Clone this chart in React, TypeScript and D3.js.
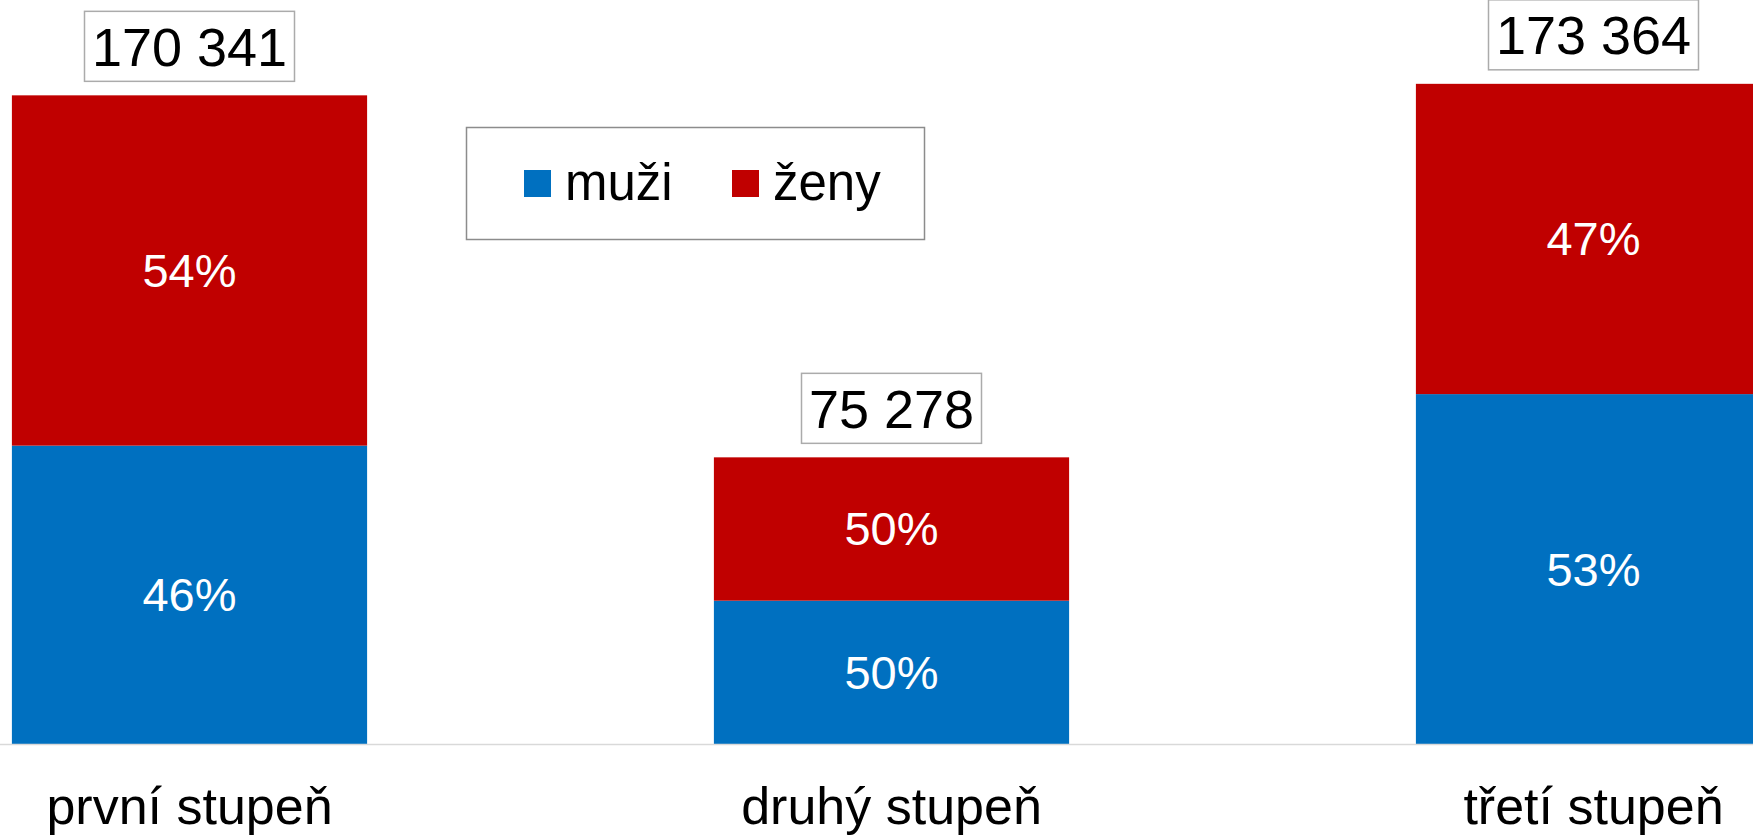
// Stacked bars: share of men / women by study level, with totals in boxes on top

import React from "react"
import * as d3 from "d3"

const categories = ["první stupeň", "druhý stupeň", "třetí stupeň"]
const totals = [170341, 75278, 173364]
const muziPct = [46, 50, 53]
const zenyPct = [54, 50, 47]
const totalLabels = ["170 341", "75 278", "173 364"]

const seriesNames = ["muži", "ženy"]
const colors = ["#0070C0", "#C00000"]

const W = 1753
const H = 836
const FONT = "'Liberation Sans', Arial, sans-serif"

export default function App() {
  const baseline = 744

  // band scale set so each bar is 355px wide with 702px step
  const x = d3.scaleBand<string>()
    .domain(categories)
    .range([-161.5, 1944.5])
    .paddingInner(0.494)
    .paddingOuter(0.247)

  const y = d3.scaleLinear()
    .domain([0, 200000])
    .range([baseline, -17.6])

  const rows = categories.map((c, i) => {
    const m = totals[i] * muziPct[i] / 100
    const z = totals[i] * zenyPct[i] / 100
    return { c, i, m, z, total: totals[i] }
  })

  const bw = x.bandwidth()

  return (
    <div style={{ position: "fixed", left: 0, top: 0 }}>
      <svg width={W} height={H} style={{ display: "block", fontFamily: FONT }}>
        <rect width={W} height={H} fill="#fff" />

        {rows.map(d => {
          const x0 = x(d.c) as number
          const cx = x0 + bw / 2
          const yM = y(d.m)
          const yT = y(d.m + d.z)
          const boxTop = yT - 84
          const boxW = totalLabels[d.i].length * 30
          return (
            <g key={d.c}>
              <rect x={x0} y={yM} width={bw} height={baseline - yM} fill={colors[0]} />
              <rect x={x0} y={yT} width={bw} height={yM - yT} fill={colors[1]} />
              <text x={cx} y={(yM + baseline) / 2} dy="0.35em" textAnchor="middle"
                fill="#fff" fontSize={47}>{muziPct[d.i]}%</text>
              <text x={cx} y={(yT + yM) / 2} dy="0.35em" textAnchor="middle"
                fill="#fff" fontSize={47}>{zenyPct[d.i]}%</text>

              <rect x={cx - boxW / 2} y={boxTop} width={boxW} height={70}
                fill="#fff" stroke="#ababab" strokeWidth={1.5} />
              <text x={cx} y={boxTop + 35} dy="0.36em" textAnchor="middle"
                fill="#000" fontSize={54}>{totalLabels[d.i]}</text>

              <text x={cx} y={824} textAnchor="middle" fill="#000" fontSize={52}>{d.c}</text>
            </g>
          )
        })}

        <line x1={0} x2={W} y1={baseline + 0.5} y2={baseline + 0.5} stroke="#d9d9d9" strokeWidth={1.5} />

        {/* legend */}
        <g>
          <rect x={466.5} y={127.5} width={458} height={112} fill="#fff" stroke="#8c8c8c" strokeWidth={1.5} />
          {seriesNames.map((s, i) => (
            <g key={s} transform={`translate(${524 + i * 208},170)`}>
              <rect width={27} height={27} fill={colors[i]} />
              <text x={41} y={30} fill="#000" fontSize={51}>{s}</text>
            </g>
          ))}
        </g>
      </svg>
    </div>
  )
}
